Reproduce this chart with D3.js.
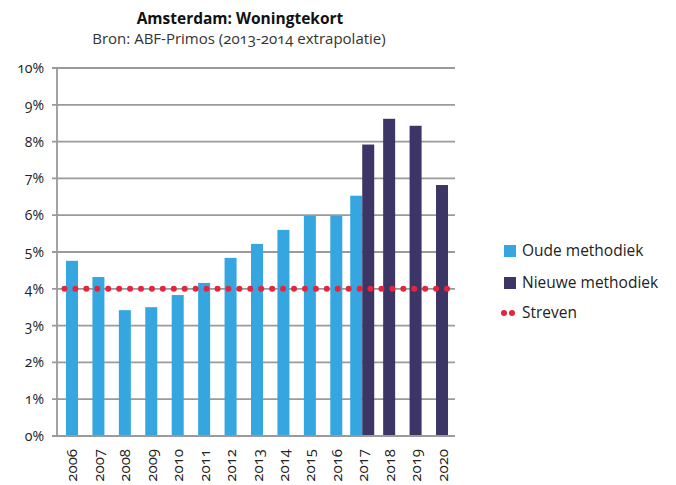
<!DOCTYPE html>
<html>
<head>
<meta charset="utf-8">
<script src="https://cdn.jsdelivr.net/npm/d3@7"></script>
<style>
  body { margin: 0; background: #fff; }
  svg { font-family: "Open Sans", "Lato", sans-serif; font-variant-numeric: oldstyle-nums; }
</style>
</head>
<body>
<div id="chart"></div>
<script>
// data
var years = ["2006", "2007", "2008", "2009", "2010", "2011", "2012", "2013", "2014", "2015", "2016", "2017", "2018", "2019", "2020"];
var oude = [4.76, 4.32, 3.42, 3.5, 3.83, 4.16, 4.84, 5.22, 5.6, 5.98, 5.98, 6.53, null, null, null];
var nieuwe = [null, null, null, null, null, null, null, null, null, null, null, 7.92, 8.62, 8.43, 6.82];
var streven = 4;
var yTicks = [0, 1, 2, 3, 4, 5, 6, 7, 8, 9, 10];

var width = 676, height = 485;
var margin = { top: 68, left: 57, right: 219, bottom: 49 };
var lightBlue = "#35a6e0", darkBlue = "#3b3666", red = "#e5243d", grid = "#9a9a9a";

var svg = d3.select("#chart").append("svg")
  .attr("width", width)
  .attr("height", height);

var x = d3.scaleBand()
  .domain(years)
  .range([margin.left, width - margin.right])
  .paddingInner(0.546)
  .paddingOuter(0.34);

var y = d3.scaleLinear()
  .domain([0, 10])
  .range([height - margin.bottom, margin.top]);

// title
svg.append("text")
  .attr("x", 240).attr("y", 24)
  .attr("text-anchor", "middle")
  .style("font-size", "15.5px").style("font-weight", "bold").style("fill", "#111")
  .text("Amsterdam: Woningtekort");
svg.append("text")
  .attr("x", 239).attr("y", 44)
  .attr("text-anchor", "middle")
  .style("font-size", "15px").style("fill", "#333")
  .text("Bron: ABF-Primos  (2013-2014 extrapolatie)");

// gridlines
svg.append("g")
  .selectAll("line")
  .data(yTicks)
  .enter().append("line")
  .attr("x1", margin.left - 5)
  .attr("x2", 455)
  .attr("y1", function (d) { return y(d); })
  .attr("y2", function (d) { return y(d); })
  .style("stroke", grid)
  .style("stroke-width", 1.8);

// y axis line
svg.append("line")
  .attr("x1", margin.left).attr("x2", margin.left)
  .attr("y1", y(10)).attr("y2", y(0))
  .style("stroke", grid).style("stroke-width", 1.8);

// y labels
svg.append("g")
  .selectAll("text")
  .data(yTicks)
  .enter().append("text")
  .attr("x", 44)
  .attr("y", function (d) { return y(d) + 5; })
  .attr("text-anchor", "end")
  .style("font-size", "14px").style("fill", "#222")
  .text(function (d) { return d + "%"; });

// bars: 2017 has both series, shown side by side
var bw = x.bandwidth();
function barX(i, series) {
  var c = x(years[i]) + bw / 2;
  if (oude[i] != null && nieuwe[i] != null) {
    return series === "oude" ? c - bw - 0.5 : c - 0.5;
  }
  return c - bw / 2;
}

svg.append("g")
  .selectAll("rect")
  .data(oude.map(function (v, i) { return { v: v, i: i }; }).filter(function (d) { return d.v != null; }))
  .enter().append("rect")
  .attr("x", function (d) { return barX(d.i, "oude"); })
  .attr("y", function (d) { return y(d.v); })
  .attr("width", bw)
  .attr("height", function (d) { return y(0) - y(d.v); })
  .style("fill", lightBlue);

svg.append("g")
  .selectAll("rect")
  .data(nieuwe.map(function (v, i) { return { v: v, i: i }; }).filter(function (d) { return d.v != null; }))
  .enter().append("rect")
  .attr("x", function (d) { return barX(d.i, "nieuwe"); })
  .attr("y", function (d) { return y(d.v); })
  .attr("width", bw)
  .attr("height", function (d) { return y(0) - y(d.v); })
  .style("fill", darkBlue);

// redraw bottom axis line over bars
svg.append("line")
  .attr("x1", margin.left - 5).attr("x2", 455)
  .attr("y1", y(0)).attr("y2", y(0))
  .style("stroke", grid).style("stroke-width", 1.8);

// streven dotted line
svg.append("line")
  .attr("x1", x(years[0]) - 1.5)
  .attr("x2", x(years[years.length - 1]) + bw - 0.5)
  .attr("y1", y(streven)).attr("y2", y(streven))
  .style("stroke", red)
  .style("stroke-width", 6)
  .style("stroke-linecap", "round")
  .style("stroke-dasharray", "0 10.93");

// x labels
svg.append("g")
  .selectAll("text")
  .data(years)
  .enter().append("text")
  .attr("transform", function (d) {
    var cx = x(d) + bw / 2;
    return "translate(" + (cx + 5.5) + "," + (y(0) + 13) + ") rotate(-90)";
  })
  .attr("text-anchor", "end")
  .style("font-size", "15px").style("fill", "#222")
  .text(function (d) { return d; });

// legend
var legend = svg.append("g");
var items = [
  { label: "Oude methodiek", color: lightBlue, y: 251 },
  { label: "Nieuwe methodiek", color: darkBlue, y: 283 }
];
items.forEach(function (it) {
  legend.append("rect")
    .attr("x", 504).attr("y", it.y - 6)
    .attr("width", 12).attr("height", 12)
    .style("fill", it.color);
  legend.append("text")
    .attr("x", 522).attr("y", it.y + 5)
    .style("font-size", "15.5px").style("fill", "#222")
    .text(it.label);
});
[504, 512].forEach(function (cx) {
  legend.append("circle")
    .attr("cx", cx).attr("cy", 313)
    .attr("r", 3)
    .style("fill", red);
});
legend.append("text")
  .attr("x", 522).attr("y", 318)
  .style("font-size", "15.5px").style("fill", "#222")
  .text("Streven");
</script>
</body>
</html>
